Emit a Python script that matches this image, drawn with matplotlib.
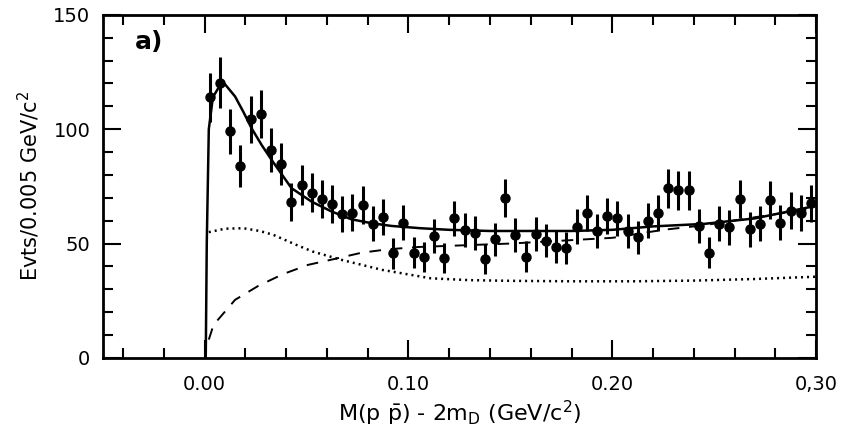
import numpy as np
import matplotlib
matplotlib.use("Agg")
import matplotlib.pyplot as plt
from matplotlib.ticker import MultipleLocator, FixedLocator, FixedFormatter

plt.rcParams['font.family'] = ['DejaVu Sans']
plt.rcParams['mathtext.fontset'] = 'dejavusans'

# data points (bin centres, 0.005 GeV/c^2 bins)
bin_x = [0.0025 + 0.005 * i for i in range(60)]
counts = [114, 120.4, 99, 84, 104.4, 106.7, 91, 84.8, 68.3, 75.6,
          72.3, 69.4, 67.2, 63, 63.5, 66.9, 58.6, 61.8, 45.8, 59.2,
          46, 44, 53.3, 43.6, 61, 56, 54.8, 43.1, 51.9, 69.8,
          53.8, 44.3, 54.2, 51.3, 48.4, 48.2, 57.4, 63.3, 55.3, 62.2,
          61, 55.3, 52.8, 60, 63.3, 74.2, 73.2, 73.2, 57.7, 46,
          58.6, 57.1, 69.5, 56.2, 58.6, 69.1, 59.2, 64.4, 63.3, 67.6]
errors = [np.sqrt(c) for c in counts]

# total fit (solid)
fit_x = [0.0005, 0.001, 0.002, 0.004, 0.0087, 0.0149, 0.019, 0.023, 0.028,
         0.0328, 0.0426, 0.0525, 0.0623, 0.072, 0.0819, 0.0917, 0.106, 0.12,
         0.14, 0.16, 0.18, 0.20, 0.22, 0.245, 0.27, 0.30]
fit_y = [0, 50, 100, 114, 121, 114.3, 107.5, 100.4, 93, 86.6, 74.2, 68.3,
         64, 60.6, 58.9, 57.7, 56.7, 56, 55.5, 55.5, 55.5, 56, 57.5, 58.6,
         61, 66.5]

# component 1 (dotted)
dot_x = [0.002, 0.01, 0.019, 0.027, 0.0337, 0.045, 0.053, 0.067, 0.087,
         0.111, 0.13, 0.15, 0.18, 0.21, 0.24, 0.27, 0.30]
dot_y = [55, 56.5, 56.7, 55.5, 53.8, 49.4, 46.5, 42.9, 38.5, 34.8, 34,
         33.7, 33.5, 33.5, 33.8, 34.5, 35.5]

# component 2 (dashed)
dash_x = [0.002, 0.0043, 0.0149, 0.0263, 0.0386, 0.0508, 0.0639, 0.077,
          0.09, 0.105, 0.12, 0.15, 0.18, 0.20, 0.225, 0.245, 0.27, 0.30]
dash_y = [8, 14.4, 25.4, 31.5, 36.7, 40.7, 43.3, 46, 47.5, 48.5, 49,
          50, 51.5, 52.5, 56, 58, 61.5, 65.5]

x_ticks = [0.0, 0.1, 0.2, 0.3]
x_tick_labels = ["0.00", "0.10", "0.20", "0,30"]
y_ticks = [0, 50, 100, 150]

fig = plt.figure(figsize=(8.43, 4.37), dpi=100)
ax = fig.add_axes([0.122, 0.181, 0.846, 0.785])

ax.plot(fit_x, fit_y, color='black', lw=1.8, zorder=3)
ax.plot(dot_x, dot_y, color='black', lw=1.8, linestyle=(0, (0.8, 1.6)), zorder=2)
ax.plot(dash_x, dash_y, color='black', lw=1.4, linestyle=(0, (6, 5)), zorder=2)
ax.errorbar(bin_x, counts, yerr=errors, fmt='o', color='black', ms=6.5,
            elinewidth=2.2, capsize=0, zorder=4)

ax.set_xlim(-0.05, 0.30)
ax.set_ylim(0, 150)
ax.xaxis.set_major_locator(FixedLocator(x_ticks))
ax.xaxis.set_major_formatter(FixedFormatter(x_tick_labels))
ax.xaxis.set_minor_locator(MultipleLocator(0.02))
ax.yaxis.set_major_locator(FixedLocator(y_ticks))
ax.yaxis.set_minor_locator(MultipleLocator(10))

ax.tick_params(which='both', direction='in', top=True, right=True,
               labelsize=14, width=1.5, color='black')
ax.tick_params(which='major', length=13)
ax.tick_params(which='minor', length=7)
ax.tick_params(axis='x', which='major', pad=12)
ax.tick_params(axis='y', which='major', pad=9)
for s in ax.spines.values():
    s.set_linewidth(2)

ax.set_xlabel(r"M(p $\bar{\mathrm{p}}$) - 2m$_\mathrm{D}$ (GeV/c$^2$)", fontsize=16, labelpad=4)
ax.set_ylabel(r"Evts/0.005 GeV/c$^2$", fontsize=15, labelpad=8)
ax.text(0.065, 0.92, "a)", transform=ax.transAxes, fontsize=18,
        fontweight='bold', ha='center', va='center')

fig.savefig("out.png", dpi=100)
